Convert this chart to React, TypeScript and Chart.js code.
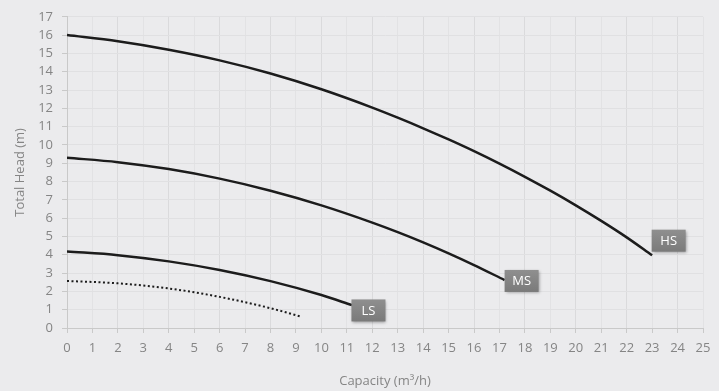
import React, { useEffect, useRef } from "react";
import { Chart, registerables } from "chart.js";

Chart.register(...registerables);

// Data
const hsX = [0, 2, 4, 6, 8, 10, 12, 13, 14, 15, 16, 17, 18, 19, 20, 21, 22, 23];
const hsY = [16, 15.66, 15.2, 14.62, 13.9, 13.04, 12.04, 11.49, 10.91, 10.3, 9.66, 8.98, 8.26, 7.5, 6.7, 5.85, 4.95, 3.97];

const msX = [0, 2, 4, 6, 8, 10, 12, 13, 14, 15, 16, 17.2];
const msY = [9.3, 9.06, 8.68, 8.16, 7.5, 6.7, 5.76, 5.24, 4.68, 4.08, 3.44, 2.62];

const lsX = [0, 2, 4, 6, 8, 10, 11.2];
const lsY = [4.18, 3.98, 3.64, 3.17, 2.56, 1.8, 1.25];

const dotX = [0, 2, 4, 6, 8, 9.2];
const dotY = [2.57, 2.44, 2.16, 1.7, 1.08, 0.62];

const curveLabels = ["HS", "MS", "LS"];
const labelX = [23.65, 17.87, 11.85];
const labelY = [4.77, 2.57, 0.96];

const xTitle = "Capacity (m³/h)";
const yTitle = "Total Head (m)";

const BG = "#ebebed";
const FONT = "'Open Sans', sans-serif";
const TICK_COLOR = "#858585";

function pts(xs: number[], ys: number[]) {
  return xs.map((x, i) => ({ x, y: ys[i] }));
}

const bgPlugin = {
  id: "bg",
  beforeDraw(chart: any) {
    const ctx = chart.ctx;
    ctx.save();
    ctx.fillStyle = BG;
    ctx.fillRect(0, 0, chart.width, chart.height);
    ctx.restore();
  },
};

const labelPlugin = {
  id: "curveLabels",
  afterDatasetsDraw(chart: any) {
    const ctx = chart.ctx;
    const xs = chart.scales.x;
    const ys = chart.scales.y;
    curveLabels.forEach((txt, i) => {
      const cx = xs.getPixelForValue(labelX[i]);
      const cy = ys.getPixelForValue(labelY[i]);
      const w = 34;
      const h = 22;
      const l = cx - w / 2;
      const t = cy - h / 2;
      ctx.save();
      ctx.shadowColor = "rgba(0,0,0,0.35)";
      ctx.shadowBlur = 3;
      ctx.shadowOffsetX = 1;
      ctx.shadowOffsetY = 1.5;
      const g = ctx.createLinearGradient(0, t, 0, t + h);
      g.addColorStop(0, "#8f8f8f");
      g.addColorStop(1, "#7a7a7a");
      ctx.fillStyle = g;
      ctx.fillRect(l, t, w, h);
      ctx.restore();
      ctx.save();
      ctx.fillStyle = "#ffffff";
      ctx.font = `13px ${FONT}`;
      ctx.textAlign = "center";
      ctx.textBaseline = "middle";
      ctx.fillText(txt, cx, cy + 0.5);
      ctx.restore();
    });
  },
};

export default function App() {
  const ref = useRef<HTMLCanvasElement | null>(null);

  useEffect(() => {
    if (!ref.current) return;
    const lineStyle = {
      borderColor: "#1c1c1c",
      borderWidth: 2.5,
      pointRadius: 0,
      cubicInterpolationMode: "monotone" as const,
      fill: false,
    };
    const chart = new Chart(ref.current, {
      type: "line",
      data: {
        datasets: [
          { label: "HS", data: pts(hsX, hsY), ...lineStyle },
          { label: "MS", data: pts(msX, msY), ...lineStyle },
          { label: "LS", data: pts(lsX, lsY), ...lineStyle },
          {
            label: "LS dotted",
            data: pts(dotX, dotY),
            ...lineStyle,
            borderWidth: 2,
            borderDash: [2, 2.5],
          },
        ],
      },
      options: {
        responsive: false,
        animation: false,
        layout: { padding: { top: 16, right: 16, left: 0, bottom: 0 } },
        plugins: {
          legend: { display: false },
          tooltip: { enabled: false },
        },
        scales: {
          x: {
            type: "linear",
            min: 0,
            max: 25,
            afterFit: (s: any) => {
              s.height = 63;
            },
            ticks: {
              stepSize: 1,
              color: TICK_COLOR,
              font: { family: FONT, size: 13 },
              padding: 7,
              maxRotation: 0,
              autoSkip: false,
            },
            grid: {
              color: (c: any) => (c.tick && c.tick.value % 2 === 0 ? "#dadadc" : "#e2e2e4"),
              tickColor: "#c9c9c9",
              tickLength: 5,
              lineWidth: 1,
            },
            border: { color: "#c9c9c9", width: 1 },
            title: {
              display: true,
              text: xTitle,
              color: TICK_COLOR,
              font: { family: FONT, size: 13 },
              padding: { top: 2, bottom: 2 },
            },
          },
          y: {
            type: "linear",
            min: 0,
            max: 17,
            afterFit: (s: any) => {
              s.width = 67;
            },
            ticks: {
              stepSize: 1,
              color: TICK_COLOR,
              font: { family: FONT, size: 13 },
              padding: 9,
              autoSkip: false,
            },
            grid: {
              color: "#e0e0e2",
              tickColor: "#c9c9c9",
              tickLength: 5,
              lineWidth: 1,
            },
            border: { color: "#c9c9c9", width: 1 },
            title: {
              display: true,
              text: yTitle,
              color: TICK_COLOR,
              font: { family: FONT, size: 13 },
              padding: { top: 12, bottom: 12 },
            },
          },
        },
      },
      plugins: [bgPlugin, labelPlugin],
    });
    return () => chart.destroy();
  }, []);

  return (
    <div
      style={{
        position: "fixed",
        left: 0,
        top: 0,
        width: 719,
        height: 391,
        background: BG,
      }}
    >
      <canvas ref={ref} width={719} height={391} style={{ display: "block" }} />
    </div>
  );
}
